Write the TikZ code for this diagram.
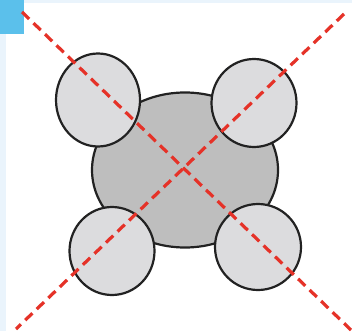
\documentclass[tikz,border=0pt]{standalone}
\usetikzlibrary{shapes.geometric}
\definecolor{bgblue}{HTML}{EAF4FC}
\definecolor{tabblue}{HTML}{5BC0EB}
\definecolor{bigfill}{HTML}{BEBEBE}
\definecolor{smallfill}{HTML}{DCDCDE}
\definecolor{outline}{HTML}{222222}
\definecolor{dashred}{HTML}{E53228}
\tikzset{
  blob/.style={ellipse, draw=outline, line width=2.2pt, inner sep=0pt},
  core/.style={blob, fill=bigfill},
  lobe/.style={blob, fill=smallfill},
  axisline/.style={draw=dashred, line width=3.2pt, dash pattern=on 10pt off 6pt}
}
\begin{document}
\begin{tikzpicture}[x=1pt,y=-1pt]
  \useasboundingbox (0,0) rectangle (352,331);
  \fill[bgblue] (0,0) rectangle (352,331);
  \fill[white] (6,3) rectangle (352,331);
  \fill[tabblue] (0,0) rectangle (24,34);
  \node[core, minimum width=186pt, minimum height=155pt] (c) at (185,170) {};
  \node[lobe, minimum width=84pt, minimum height=93pt] (tl) at (98,100) {};
  \node[lobe, minimum width=85pt, minimum height=88pt] (tr) at (254,103) {};
  \node[lobe, minimum width=85pt, minimum height=88pt] (bl) at (112,251) {};
  \node[lobe, minimum width=86pt, minimum height=86pt] (br) at (258,247) {};
  \coordinate (a1) at (22,12);
  \coordinate (a2) at (351,330);
  \coordinate (b1) at (344,14);
  \coordinate (b2) at (16,329);
  \draw[axisline] (a1) -- (a2);
  \draw[axisline] (b1) -- (b2);
\end{tikzpicture}
\end{document}
